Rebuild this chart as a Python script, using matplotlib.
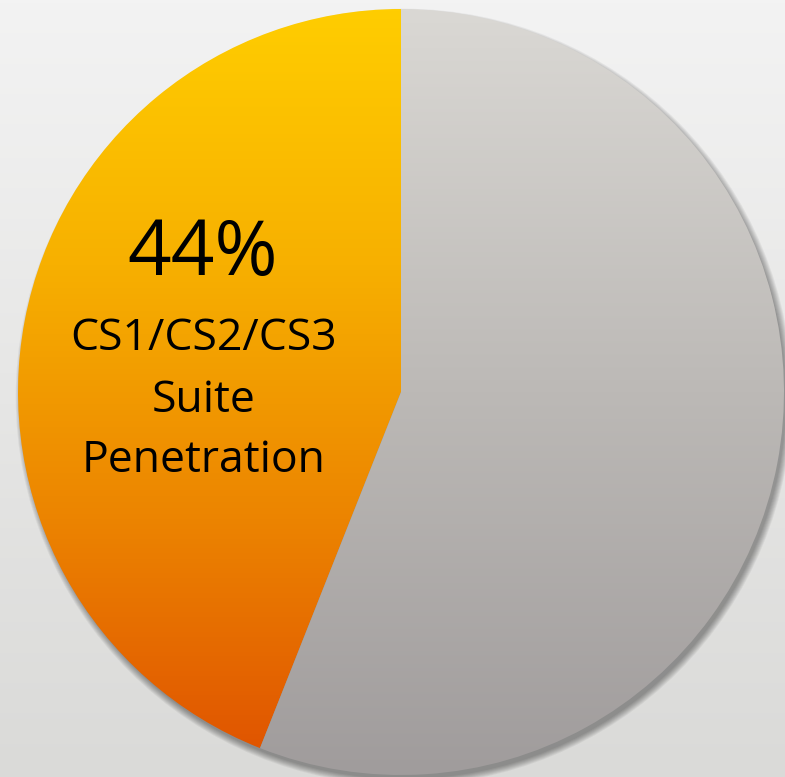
import numpy as np
import matplotlib.pyplot as plt
from matplotlib.colors import LinearSegmentedColormap
from matplotlib.patches import Circle

# slice data
shares = [44, 56]
slice_names = ['CS1/CS2/CS3 Suite Penetration', 'Other']
pct_label = '44%'
label_lines = ['CS1/CS2/CS3', 'Suite', 'Penetration']

W, H = 785, 777
fig = plt.figure(figsize=(7.85, 7.77), dpi=100)
ax = fig.add_axes([0, 0, 1, 1])

# background gradient (light at top, a bit darker at bottom)
bg = np.linspace(0, 1, 256).reshape(-1, 1)
bg_cmap = LinearSegmentedColormap.from_list('bg', ['#dadad8', '#f3f3f3'])
ax.imshow(bg, extent=[0, W, 0, H], origin='lower', cmap=bg_cmap, aspect='auto', zorder=0)

cx, cy, r = 401, H - 392, 383

# soft drop shadow under the pie, pushed down-right
for i in range(8):
    ax.add_patch(Circle((cx + 3, cy - 5), r - 1 + i * 0.9, color='black',
                        alpha=0.05, lw=0, zorder=1))

wedges, _ = ax.pie(shares, startangle=90, counterclock=True, center=(cx, cy), radius=r,
                   wedgeprops=dict(linewidth=0, facecolor='none'))
for w in wedges:
    w.set_zorder(2)

# vertical gradient fill for each slice
grad = np.linspace(0, 1, 256).reshape(-1, 1)
cmaps = [
    LinearSegmentedColormap.from_list('org', ['#df5000', '#ec8400', '#f7b000', '#ffcd00']),
    LinearSegmentedColormap.from_list('gry', ['#a09c9c', '#bcb9b6', '#dad8d4']),
]
for w, cm in zip(wedges, cmaps):
    im = ax.imshow(grad, extent=[cx - r, cx + r, cy - r, cy + r], origin='lower',
                   cmap=cm, aspect='auto', zorder=3)
    im.set_clip_path(w)

# labels
ax.text(203, H - 275, pct_label, fontsize=55, ha='center', va='baseline',
        family='Open Sans', color='black', zorder=5)
for txt, yb in zip(label_lines, [350, 412, 472]):
    ax.text(204, H - yb, txt, fontsize=32, ha='center', va='baseline',
            family='Open Sans', color='black', zorder=5)

ax.set_xlim(0, W)
ax.set_ylim(0, H)
ax.axis('off')
fig.savefig('out.png', dpi=100)
